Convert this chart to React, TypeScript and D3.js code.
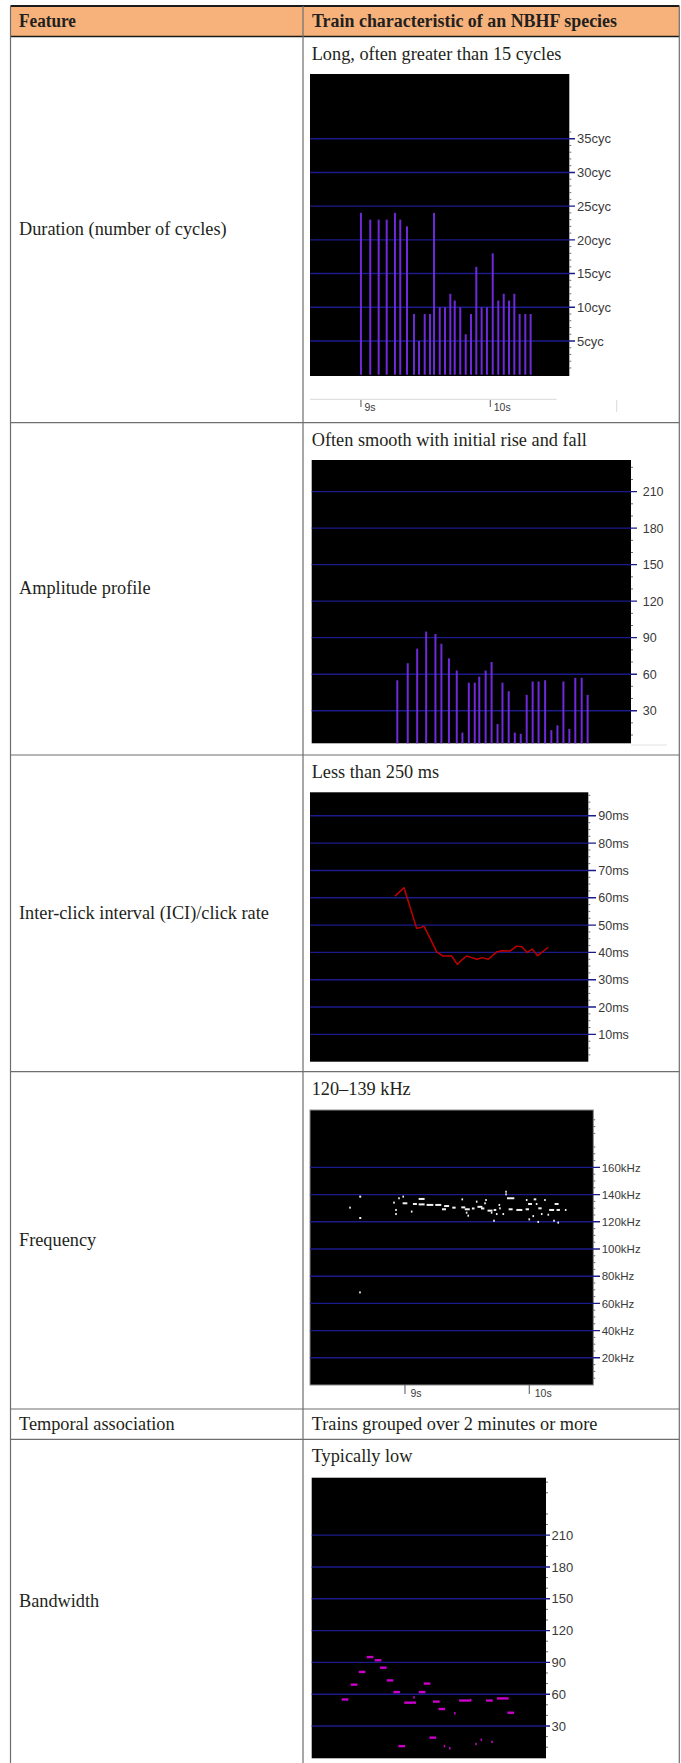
import React from "react";
import * as d3 from "d3";

// ---------- table text ----------
const features = [
  "Duration (number of cycles)",
  "Amplitude profile",
  "Inter-click interval (ICI)/click rate",
  "Frequency",
  "Temporal association",
  "Bandwidth",
];
const descriptions = [
  "Long, often greater than 15 cycles",
  "Often smooth with initial rise and fall",
  "Less than 250 ms",
  "120–139 kHz",
  "Trains grouped over 2 minutes or more",
  "Typically low",
];

// ---------- click train data ----------
// time of each click in the train (s)
const clickTimes = [
  9.0, 9.072, 9.137, 9.199, 9.263, 9.304, 9.356, 9.41, 9.449, 9.493, 9.534, 9.565, 9.609, 9.65, 9.691,
  9.725, 9.768, 9.81, 9.851, 9.892, 9.933, 9.974, 10.019, 10.062, 10.104, 10.145, 10.186, 10.227, 10.271, 10.312,
];
// duration of each click (cycles)
const durationCycles = [
  24, 23, 23, 23, 24, 23, 22, 9, 5, 9, 9, 24, 10, 10, 12, 11, 10, 6, 9, 16, 10, 10, 18, 11, 12, 11, 12, 9, 9, 9,
];
// peak amplitude of each click
const amplitude = [
  55, 69, 81, 95, 93, 85, 73, 63, 12, 53, 53, 58, 63, 70, 19, 53, 46, 12, 11, 43, 54, 54, 55, 14, 18, 54, 15, 57, 57, 43,
];
// inter-click interval: [time s, interval ms]
const iciSeries: [number, number][] = [
  [9.072, 60.6], [9.145, 63.7], [9.247, 48.8], [9.274, 49.0], [9.306, 49.6], [9.355, 45.2], [9.409, 40.2],
  [9.458, 38.7], [9.53, 38.7], [9.576, 35.6], [9.611, 37.2], [9.652, 38.7], [9.692, 38.1], [9.733, 37.5],
  [9.781, 38.1], [9.827, 37.5], [9.895, 40.2], [9.935, 40.6], [10.002, 40.5], [10.056, 42.3], [10.097, 42.1],
  [10.142, 40.0], [10.183, 41.2], [10.226, 38.8], [10.312, 41.9],
];
// frequency of detected clicks: [time s, kHz, extent ms]
const freqClicks: [number, number, number][] = [
  [8.558, 130.4, 13], [8.64, 138.5, 16], [8.64, 122.8, 16], [8.638, 68.1, 13], [8.912, 134.1, 13],
  [8.928, 128.7, 13], [8.928, 125.7, 13], [8.952, 137.3, 13], [8.986, 138.5, 13], [9.0, 133.6, 38],
  [9.054, 127.5, 13], [9.08, 133.1, 32], [9.134, 136.8, 48], [9.134, 132.8, 48], [9.201, 132.4, 54],
  [9.268, 132.4, 48], [9.314, 129.2, 32], [9.335, 131.6, 40], [9.394, 130.4, 27], [9.461, 136.5, 13],
  [9.469, 130.6, 32], [9.501, 129.2, 40], [9.496, 126.7, 13], [9.509, 124.5, 13], [9.549, 129.8, 21],
  [9.577, 134.8, 13], [9.603, 131.0, 40], [9.625, 129.8, 27], [9.644, 133.6, 13], [9.652, 136.0, 13],
  [9.684, 128.2, 40], [9.697, 126.7, 13], [9.716, 120.8, 13], [9.724, 128.7, 21], [9.738, 125.7, 13],
  [9.759, 132.4, 13], [9.764, 129.9, 13], [9.791, 125.7, 13], [9.813, 142.1, 11], [9.813, 140.2, 11],
  [9.85, 137.3, 59], [9.85, 129.2, 32], [9.92, 128.7, 48], [9.979, 136.0, 13], [9.984, 129.2, 27],
  [10.006, 133.1, 32], [10.0, 121.8, 13], [10.032, 124.2, 13], [10.046, 136.5, 21], [10.059, 133.1, 13],
  [10.072, 119.9, 13], [10.086, 129.9, 27], [10.1, 125.7, 13], [10.126, 136.0, 13], [10.153, 125.2, 13],
  [10.18, 128.7, 40], [10.199, 120.8, 13], [10.22, 133.1, 32], [10.233, 128.7, 27], [10.233, 119.4, 13],
  [10.293, 128.7, 13],
];
// bandwidth marks: [time s, value, extent ms]
const bandwidthMarks: [number, number, number][] = [
  [9.0, 55, 53], [9.071, 69, 53], [9.135, 81, 53], [9.198, 95, 53], [9.261, 92, 53], [9.303, 85, 53],
  [9.356, 73, 53], [9.409, 62, 53], [9.449, 11, 53], [9.515, 52, 93], [9.546, 57, 12], [9.61, 62, 53],
  [9.649, 70, 53], [9.695, 19, 53], [9.723, 53, 53], [9.766, 46, 53], [9.787, 11, 12], [9.829, 9, 12],
  [9.869, 42, 12], [9.95, 54, 93], [9.995, 54.5, 12], [10.037, 13, 12], [10.079, 17, 12], [10.143, 54, 53],
  [10.164, 15, 12], [10.249, 56, 93], [10.312, 42.5, 53],
];

// ---------- axis ticks ----------
const cycleTicks = [5, 10, 15, 20, 25, 30, 35];
const amplitudeTicks = [30, 60, 90, 120, 150, 180, 210];
const iciTicks = [10, 20, 30, 40, 50, 60, 70, 80, 90];
const freqTicks = [20, 40, 60, 80, 100, 120, 140, 160];
const bandwidthTicks = [30, 60, 90, 120, 150, 180, 210];
const timeTicks = [9, 10];

// ---------- layout ----------
const W = 681;
const H = 1763;
const ROWS = [6, 36.5, 422.7, 755, 1071.7, 1409, 1439.3, 1763];
const X_LEFT = 10.5;
const X_MID = 303;
const X_RIGHT = 679.3;

const SERIF = "'Liberation Serif', 'Times New Roman', serif";
const SANS = "'Liberation Sans', Arial, sans-serif";
const INK = "#231f20";
const RULE = "#6d6e71";
const GRID = "#1b1b8c";
const LABEL = "#3a3a3a";
const BAR = "#6e2ad8";
const BODY_SIZE = 18.3;

type Box = { x0: number; x1: number; y0: number; y1: number };

const Frame = ({ box, stroke }: { box: Box; stroke?: string }) => (
  <rect
    x={box.x0}
    y={box.y0}
    width={box.x1 - box.x0}
    height={box.y1 - box.y0}
    fill="#000"
    stroke={stroke ?? "none"}
    strokeWidth={1}
  />
);

function RightAxis({
  box,
  y,
  ticks,
  minor,
  tickTo,
  labelX,
  fmt,
  fontSize,
}: {
  box: Box;
  y: d3.ScaleLinear<number, number>;
  ticks: number[];
  minor: number[];
  tickTo: number;
  labelX: number;
  fmt: (v: number) => string;
  fontSize: number;
}) {
  return (
    <g>
      {minor.map((v) => (
        <line key={"m" + v} x1={box.x1} x2={box.x1 + 2} y1={y(v)} y2={y(v)} stroke="#6a6a80" strokeWidth={1} />
      ))}
      {ticks.map((v) => (
        <g key={v}>
          <line x1={box.x0} x2={tickTo} y1={y(v)} y2={y(v)} stroke={GRID} strokeWidth={1.4} />
          <text x={labelX} y={y(v)} dy="0.36em" fontFamily={SANS} fontSize={fontSize} fill={LABEL}>
            {fmt(v)}
          </text>
        </g>
      ))}
    </g>
  );
}

const minorOf = (lo: number, hi: number, step: number, major: number) =>
  d3.range(lo, hi, step).filter((v) => Math.abs(v / major - Math.round(v / major)) > 1e-6);

// ---------- duration ----------
function DurationChart() {
  const box: Box = { x0: 310, x1: 569.3, y0: 74, y1: 376 };
  const x = d3.scaleLinear().domain([8.606, 10.611]).range([box.x0, box.x1]);
  const y = d3.scaleLinear().domain([0, 44.6]).range([374.7, box.y0]);
  const axisY = 399.3;
  return (
    <g>
      <Frame box={box} />
      <RightAxis
        box={box}
        y={y}
        ticks={cycleTicks}
        minor={minorOf(1, 37, 1, 5)}
        tickTo={575}
        labelX={577}
        fmt={(v) => `${v}cyc`}
        fontSize={13}
      />
      {clickTimes.map((t, i) => (
        <rect key={i} x={x(t) - 1} y={y(durationCycles[i])} width={2} height={y(0) - y(durationCycles[i])} fill={BAR} />
      ))}
      <line x1={box.x0} x2={556.7} y1={axisY} y2={axisY} stroke="#d9d9d9" strokeWidth={1} />
      <line x1={616.7} x2={616.7} y1={400} y2={412} stroke="#d9d9d9" strokeWidth={1} />
      {timeTicks.map((s) => (
        <g key={s}>
          <line x1={x(s)} x2={x(s)} y1={400} y2={407} stroke="#555" strokeWidth={1} />
          <text x={x(s) + 3.5} y={410.5} fontFamily={SANS} fontSize={10.5} fill={LABEL}>
            {`${s}s`}
          </text>
        </g>
      ))}
    </g>
  );
}

// ---------- amplitude ----------
function AmplitudeChart() {
  const box: Box = { x0: 311.7, x1: 631, y0: 460, y1: 743.3 };
  const x = d3.scaleLinear().domain([8.41, 10.611]).range([box.x0, box.x1]);
  const y = d3.scaleLinear().domain([0, 236]).range([747.2, box.y0]);
  const base = Math.min(y(0), box.y1);
  return (
    <g>
      <Frame box={box} />
      <RightAxis
        box={box}
        y={y}
        ticks={amplitudeTicks}
        minor={minorOf(10, 236, 10, 30)}
        tickTo={637}
        labelX={642.7}
        fmt={(v) => `${v}`}
        fontSize={12.5}
      />
      {clickTimes.map((t, i) => (
        <rect key={i} x={x(t) - 1} y={y(amplitude[i])} width={2} height={base - y(amplitude[i])} fill={BAR} />
      ))}
      <line x1={box.x1} x2={667} y1={745} y2={745} stroke="#e2e2e2" strokeWidth={1} />
    </g>
  );
}

// ---------- inter-click interval ----------
function IciChart() {
  const box: Box = { x0: 310, x1: 588.3, y0: 792.3, y1: 1061.7 };
  const x = d3.scaleLinear().domain([8.384, 10.636]).range([box.x0, box.x1]);
  const y = d3.scaleLinear().domain([0, 98.6]).range([box.y1, box.y0]);
  const path = d3
    .line<[number, number]>()
    .x((d) => x(d[0]))
    .y((d) => y(d[1]))(iciSeries);
  return (
    <g>
      <Frame box={box} />
      <RightAxis
        box={box}
        y={y}
        ticks={iciTicks}
        minor={minorOf(2.5, 98, 2.5, 10)}
        tickTo={596}
        labelX={598.3}
        fmt={(v) => `${v}ms`}
        fontSize={12.5}
      />
      <path d={path ?? ""} fill="none" stroke="#c00000" strokeWidth={1.5} strokeLinejoin="round" />
    </g>
  );
}

// ---------- frequency ----------
function FrequencyChart() {
  const box: Box = { x0: 310, x1: 593.3, y0: 1110, y1: 1385 };
  const x = d3.scaleLinear().domain([8.236, 10.515]).range([box.x0, box.x1]);
  const y = d3.scaleLinear().domain([0, 202.2]).range([box.y1, box.y0]);
  const pxPerMs = (x(1) - x(0)) / 1000;
  return (
    <g>
      <Frame box={box} stroke="#8c8c8c" />
      <RightAxis
        box={box}
        y={y}
        ticks={freqTicks}
        minor={minorOf(5, 200, 5, 20)}
        tickTo={600}
        labelX={601.7}
        fmt={(v) => `${v}kHz`}
        fontSize={11.5}
      />
      {freqClicks.map(([t, f, len], i) => {
        const w = Math.max(len * pxPerMs, 1.5);
        return <rect key={i} x={x(t) - w / 2} y={y(f) - 1} width={w} height={2} fill="#f2f2f2" />;
      })}
      {timeTicks.map((s) => (
        <g key={s}>
          <line x1={x(s)} x2={x(s)} y1={box.y1} y2={1394} stroke="#555" strokeWidth={1} />
          <text x={x(s) + 5.5} y={1397} fontFamily={SANS} fontSize={10.5} fill={LABEL}>
            {`${s}s`}
          </text>
        </g>
      ))}
    </g>
  );
}

// ---------- bandwidth ----------
function BandwidthChart() {
  const box: Box = { x0: 311.7, x1: 546, y0: 1477.7, y1: 1758.3 };
  const x = d3.scaleLinear().domain([8.736, 10.591]).range([box.x0, box.x1]);
  const y = d3.scaleLinear().domain([0, 264.2]).range([1757.8, box.y0]);
  const pxPerMs = (x(1) - x(0)) / 1000;
  return (
    <g>
      <Frame box={box} />
      <RightAxis
        box={box}
        y={y}
        ticks={bandwidthTicks}
        minor={minorOf(10, 264, 10, 30)}
        tickTo={550}
        labelX={551.5}
        fmt={(v) => `${v}`}
        fontSize={13}
      />
      {bandwidthMarks.map(([t, v, len], i) => {
        const w = Math.max(len * pxPerMs, 1.5);
        return <rect key={i} x={x(t) - w / 2} y={y(v) - 1.2} width={w} height={2.4} fill="#c800c8" />;
      })}
    </g>
  );
}

// ---------- table ----------
export default function App() {
  const rowCenters = ROWS.slice(1, -1).map((top, i) => (top + ROWS[i + 2]) / 2);
  return (
    <svg
      width={W}
      height={H}
      viewBox={`0 0 ${W} ${H}`}
      style={{ position: "absolute", left: 0, top: 0, background: "#fff" }}
    >
      <rect x={0} y={0} width={W} height={H} fill="#fff" />
      {/* header */}
      <rect x={X_LEFT} y={ROWS[0]} width={X_RIGHT - X_LEFT} height={ROWS[1] - ROWS[0]} fill="#f6b27a" />
      <text
        x={19}
        y={26.7}
        fontFamily={SERIF}
        fontWeight="bold"
        fontSize={18}
        fill={INK}
        textLength={57}
        lengthAdjust="spacingAndGlyphs"
      >
        Feature
      </text>
      <text
        x={312}
        y={26.7}
        fontFamily={SERIF}
        fontWeight="bold"
        fontSize={18}
        fill={INK}
        textLength={305}
        lengthAdjust="spacingAndGlyphs"
      >
        Train characteristic of an NBHF species
      </text>

      {/* charts */}
      <DurationChart />
      <AmplitudeChart />
      <IciChart />
      <FrequencyChart />
      <BandwidthChart />

      {/* row text */}
      {features.map((f, i) => (
        <text key={f} x={19} y={rowCenters[i] + 5.5} fontFamily={SERIF} fontSize={BODY_SIZE} fill={INK}>
          {f}
        </text>
      ))}
      {descriptions.map((d, i) => (
        <text
          key={d}
          x={311.7}
          y={i === 4 ? rowCenters[i] + 5.5 : ROWS[i + 1] + 23}
          fontFamily={SERIF}
          fontSize={BODY_SIZE}
          fill={INK}
        >
          {d}
        </text>
      ))}

      {/* rules */}
      {ROWS.slice(2, -1).map((yy) => (
        <line key={yy} x1={X_LEFT} x2={X_RIGHT} y1={yy} y2={yy} stroke={RULE} strokeWidth={1.2} />
      ))}
      <line x1={X_LEFT} x2={X_RIGHT} y1={ROWS[0]} y2={ROWS[0]} stroke="#1a1a1a" strokeWidth={1.8} />
      <line x1={X_LEFT} x2={X_RIGHT} y1={ROWS[1]} y2={ROWS[1]} stroke="#1a1a1a" strokeWidth={1.4} />
      {[X_LEFT, X_MID, X_RIGHT].map((xx) => (
        <line key={xx} x1={xx} x2={xx} y1={ROWS[0]} y2={H} stroke={RULE} strokeWidth={1.2} />
      ))}
    </svg>
  );
}
